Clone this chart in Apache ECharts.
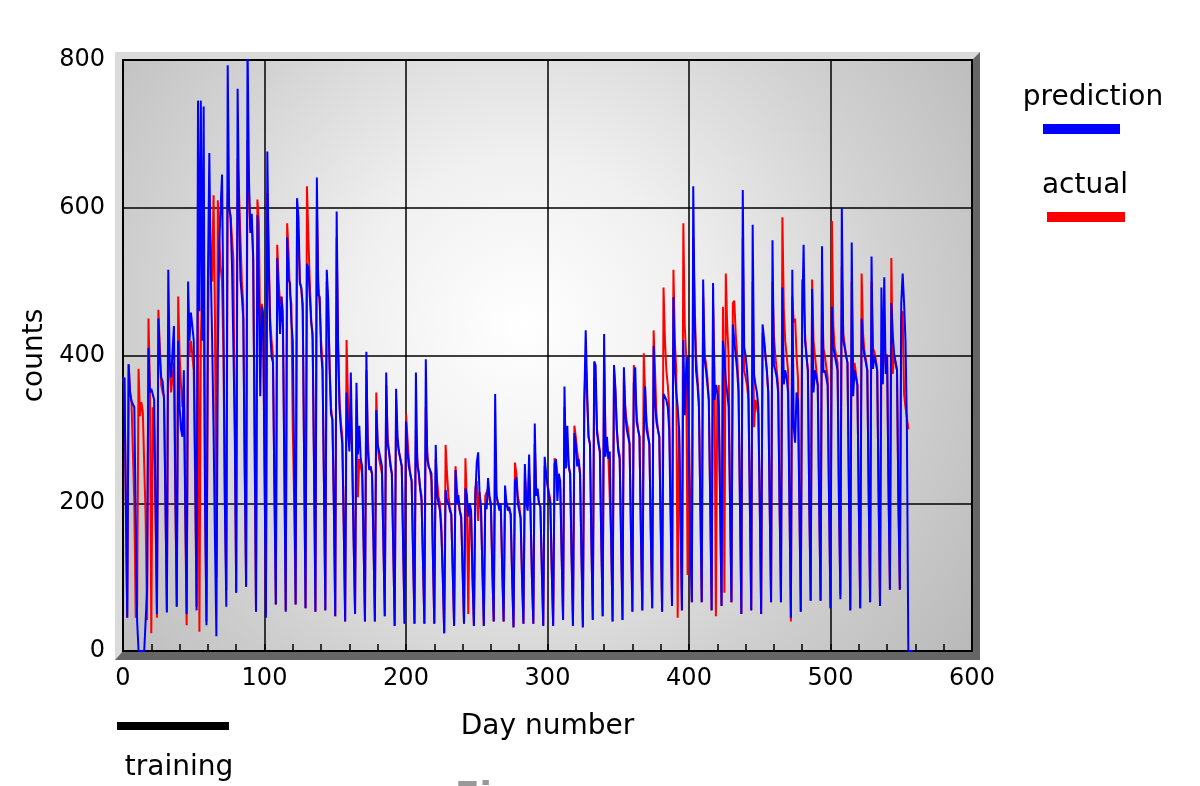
<!DOCTYPE html>
<html>
<head>
<meta charset="utf-8">
<script src="https://cdn.jsdelivr.net/npm/echarts@6/dist/echarts.min.js"></script>
<style>
  html, body { margin: 0; padding: 0; background: #fff; }
  #chart { width: 1200px; height: 786px; }
</style>
</head>
<body>
<div id="chart"></div>
<script>
// daily counts, index = day number (one row per week, week ends on the low day)
var prediction = [
  365, 370, 200, 45,
  388, 350, 338, 336, 330, 180, 40,
  0, 0, 0, 0, 0, 0, 82,
  410, 350, 355, 355, 340, 200, 50,
  450, 400, 370, 365, 340, 200, 52,
  516, 390, 370, 370, 440, 220, 60,
  420, 330, 300, 290, 380, 200, 50,
  500, 420, 458, 440, 420, 250, 55,
  745, 460, 745, 420, 737, 200, 35,
  500, 674, 520, 420, 300, 150, 20,
  400, 550, 600, 645, 450, 200, 60,
  793, 600, 587, 524, 524, 300, 79,
  761, 600, 503, 480, 450, 250, 87,
  830, 640, 566, 592, 534, 300, 53,
  590, 482, 345, 466, 455, 250, 45,
  676, 521, 434, 398, 390, 220, 63,
  532, 480, 429, 479, 440, 250, 53,
  560, 503, 498, 445, 420, 250, 63,
  613, 587, 498, 492, 470, 260, 58,
  524, 519, 480, 445, 430, 250, 53,
  641, 482, 479, 403, 380, 230, 55,
  516, 477, 382, 321, 313, 200, 47,
  595, 413, 329, 300, 280, 170, 40,
  350, 300, 270, 377, 260, 150, 50,
  363, 266, 305, 260, 250, 150, 40,
  405, 271, 245, 250, 240, 150, 40,
  326, 280, 270, 260, 250, 150, 47,
  377, 280, 270, 250, 240, 140, 34,
  355, 290, 270, 260, 250, 140, 37,
  311, 270, 250, 240, 230, 130, 37,
  377, 250, 242, 220, 203, 120, 37,
  395, 260, 250, 245, 240, 130, 37,
  279, 210, 200, 190, 160, 100, 24,
  218, 203, 200, 190, 185, 110, 34,
  245, 200, 211, 190, 182, 110, 37,
  220, 211, 182, 200, 190, 100, 34,
  210, 255, 269, 211, 192, 110, 34,
  200, 192, 234, 210, 200, 110, 40,
  348, 210, 200, 190, 200, 110, 40,
  224, 200, 190, 195, 185, 100, 32,
  230, 235, 200, 190, 180, 100, 37,
  253, 200, 190, 266, 190, 100, 37,
  308, 210, 220, 200, 195, 110, 34,
  263, 240, 225, 210, 200, 110, 34,
  253, 260, 203, 240, 230, 130, 42,
  358, 247, 305, 250, 240, 130, 34,
  295, 280, 250, 260, 240, 130, 32,
  337, 434, 353, 290, 280, 150, 42,
  392, 387, 295, 280, 270, 150, 47,
  429, 263, 290, 260, 270, 150, 40,
  387, 355, 300, 270, 260, 150, 42,
  384, 320, 300, 290, 280, 160, 53,
  361, 384, 310, 300, 290, 160, 55,
  292, 358, 300, 290, 280, 160, 58,
  413, 337, 310, 300, 290, 170, 53,
  348, 348, 340, 330, 300, 180, 61,
  479, 382, 350, 330, 300, 180, 55,
  421, 319, 380, 400, 250, 150, 66,
  629, 450, 379, 360, 330, 200, 66,
  503, 395, 380, 360, 340, 200, 55,
  498, 340, 360, 350, 330, 200, 61,
  420, 398, 366, 350, 330, 200, 66,
  442, 420, 400, 380, 350, 200, 50,
  624, 411, 400, 380, 350, 200, 55,
  577, 374, 360, 350, 330, 200, 50,
  442, 424, 400, 380, 350, 200, 66,
  556, 387, 380, 370, 350, 200, 66,
  492, 361, 380, 370, 350, 200, 45,
  516, 303, 282, 350, 340, 200, 53,
  450, 550, 420, 400, 380, 200, 68,
  490, 350, 380, 370, 360, 200, 68,
  548, 377, 380, 370, 360, 200, 58,
  466, 411, 400, 390, 380, 200, 70,
  600, 421, 411, 400, 390, 220, 55,
  553, 345, 380, 370, 360, 200, 58,
  450, 413, 400, 390, 380, 210, 66,
  534, 382, 400, 390, 380, 210, 61,
  492, 361, 506, 375, 400, 220, 83,
  471, 428, 401, 400, 380, 200, 83,
  470, 511, 471, 420, 300, 0, 0, 0, 0
];

var actual = [
  365, 370, 200, 45,
  388, 350, 338, 336, 200, 45, 60,
  382, 318, 337, 324, 324, 180, 42,
  450, 360, 24, 330, 300, 180, 45,
  462, 413, 360, 350, 345, 200, 55,
  430, 380, 350, 348, 390, 200, 60,
  480, 400, 360, 330, 360, 180, 35,
  430, 400, 420, 400, 380, 220, 60,
  500, 26, 420, 500, 450, 200, 40,
  400, 600, 540, 500, 617, 450, 100,
  610, 560, 520, 500, 400, 200, 82,
  620, 600, 590, 560, 530, 300, 79,
  666, 620, 560, 500, 470, 250, 87,
  692, 620, 571, 580, 530, 280, 53,
  611, 580, 420, 470, 460, 260, 50,
  620, 540, 450, 420, 400, 230, 63,
  550, 500, 470, 480, 460, 260, 55,
  579, 540, 482, 470, 300, 200, 63,
  590, 560, 500, 490, 460, 260, 58,
  629, 560, 500, 450, 420, 250, 53,
  600, 500, 470, 420, 390, 230, 55,
  500, 460, 390, 330, 313, 200, 47,
  560, 420, 340, 310, 290, 170, 40,
  421, 340, 280, 330, 260, 150, 50,
  340, 208, 260, 250, 240, 150, 40,
  380, 290, 250, 250, 240, 150, 40,
  350, 280, 260, 250, 240, 150, 47,
  360, 290, 270, 255, 240, 140, 34,
  340, 280, 270, 260, 250, 140, 37,
  321, 290, 260, 240, 230, 130, 37,
  300, 260, 240, 220, 210, 120, 37,
  330, 270, 250, 245, 230, 130, 37,
  260, 230, 208, 200, 170, 100, 24,
  279, 240, 210, 195, 185, 110, 34,
  250, 220, 200, 190, 180, 110, 37,
  261, 200, 50, 190, 185, 100, 34,
  220, 230, 176, 215, 195, 110, 34,
  210, 211, 220, 205, 195, 110, 40,
  230, 210, 200, 195, 190, 110, 40,
  210, 200, 195, 190, 185, 100, 32,
  255, 240, 210, 200, 180, 100, 37,
  240, 210, 195, 240, 190, 100, 37,
  280, 220, 215, 200, 195, 110, 34,
  250, 240, 225, 215, 205, 110, 34,
  261, 255, 240, 230, 220, 130, 42,
  330, 260, 280, 250, 240, 130, 34,
  305, 290, 270, 255, 240, 130, 32,
  337, 400, 340, 290, 280, 150, 42,
  370, 360, 300, 285, 270, 150, 47,
  400, 290, 280, 265, 265, 150, 40,
  380, 350, 300, 275, 265, 150, 42,
  370, 330, 310, 300, 280, 160, 53,
  387, 350, 320, 300, 290, 160, 55,
  403, 350, 310, 295, 280, 160, 58,
  434, 380, 320, 300, 290, 170, 53,
  492, 421, 380, 360, 330, 200, 61,
  516, 420, 380, 45, 300, 200, 55,
  579, 440, 400, 103, 300, 180, 66,
  560, 470, 400, 370, 340, 200, 66,
  480, 400, 390, 370, 340, 200, 55,
  470, 380, 47, 340, 360, 200, 61,
  466, 79, 511, 440, 400, 200, 66,
  471, 474, 430, 400, 360, 200, 50,
  560, 380, 370, 360, 340, 200, 55,
  500, 303, 340, 340, 320, 200, 50,
  430, 420, 400, 380, 350, 200, 66,
  500, 427, 400, 380, 360, 200, 66,
  587, 463, 420, 400, 380, 200, 40,
  480, 445, 450, 400, 370, 200, 53,
  503, 480, 430, 400, 380, 200, 68,
  503, 420, 400, 380, 360, 200, 68,
  500, 410, 400, 385, 370, 200, 58,
  582, 440, 410, 400, 390, 200, 76,
  520, 430, 415, 400, 390, 220, 55,
  500, 377, 390, 375, 360, 200, 58,
  511, 430, 405, 395, 380, 210, 66,
  500, 410, 405, 395, 380, 210, 61,
  403, 380, 400, 401, 401, 220, 83,
  532, 375, 401, 400, 380, 200, 83,
  450, 460, 348, 330, 316, 300
];

var FONT = '"DejaVu Sans", "Liberation Sans", sans-serif';

function toPairs(arr) {
  return arr.map(function (v, i) { return [i, v]; });
}

var chart = echarts.init(document.getElementById('chart'));

var option = {
  backgroundColor: '#ffffff',
  animation: false,
  grid: {
    left: 123, right: 228, top: 60, bottom: 135,
    show: true,
    borderColor: '#000',
    borderWidth: 2,
    backgroundColor: new echarts.graphic.RadialGradient(0.47, 0.45, 0.95, [
      { offset: 0, color: '#ffffff' },
      { offset: 0.3, color: '#f0f0f0' },
      { offset: 0.65, color: '#d2d2d2' },
      { offset: 1, color: '#b8b8b8' }
    ])
  },
  xAxis: {
    type: 'value',
    min: 0, max: 600, interval: 100,
    name: 'Day number',
    nameLocation: 'middle',
    nameGap: 62,
    nameTextStyle: { fontFamily: FONT, fontSize: 28, color: '#000' },
    axisLine: { show: true, lineStyle: { color: '#000', width: 2 } },
    axisTick: { show: true, inside: true, length: 7, lineStyle: { color: '#000', width: 1.5 } },
    minorTick: { show: true, splitNumber: 5, length: 7, lineStyle: { color: '#000', width: 1.5 } },
    axisLabel: { margin: 16, fontFamily: FONT, fontSize: 24, color: '#000' },
    splitLine: { show: true, lineStyle: { color: '#000', width: 1.5 } }
  },
  yAxis: {
    type: 'value',
    min: 0, max: 800, interval: 200,
    name: 'counts',
    nameLocation: 'middle',
    nameGap: 68,
    nameTextStyle: { fontFamily: FONT, fontSize: 28, color: '#000' },
    axisLine: { show: true, lineStyle: { color: '#000', width: 2 } },
    axisTick: { show: false },
    axisLabel: { margin: 18, fontFamily: FONT, fontSize: 24, color: '#000' },
    splitLine: { show: true, lineStyle: { color: '#000', width: 1.5 } }
  },
  series: [
    {
      name: 'actual',
      type: 'line',
      data: toPairs(actual),
      symbol: 'none',
      clip: true,
      lineStyle: { color: '#ff0000', width: 2 },
      itemStyle: { color: '#ff0000' }
    },
    {
      name: 'prediction',
      type: 'line',
      data: toPairs(prediction),
      symbol: 'none',
      clip: true,
      lineStyle: { color: '#0000ff', width: 2 },
      itemStyle: { color: '#0000ff' }
    }
  ],
  graphic: [
    // 3d frame round the plot
    { type: 'polygon', z: -1, shape: { points: [[115, 52], [980, 52], [972, 60], [123, 60], [123, 651], [115, 660]] },
      style: { fill: '#dadada' } },
    { type: 'polygon', z: -1, shape: { points: [[980, 52], [980, 660], [115, 660], [123, 651], [972, 651], [972, 60]] },
      style: { fill: '#666666' } },
    // legend
    { type: 'text', x: 1093, y: 98, style: { text: 'prediction', font: '28px ' + FONT, fill: '#000', align: 'center', verticalAlign: 'middle' } },
    { type: 'rect', shape: { x: 1043, y: 124, width: 77, height: 10 }, style: { fill: '#0000ff' } },
    { type: 'text', x: 1085, y: 186, style: { text: 'actual', font: '28px ' + FONT, fill: '#000', align: 'center', verticalAlign: 'middle' } },
    { type: 'rect', shape: { x: 1047, y: 212, width: 78, height: 10 }, style: { fill: '#ff0000' } },
    // training period
    { type: 'rect', shape: { x: 117, y: 722, width: 112, height: 8 }, style: { fill: '#000' } },
    { type: 'text', x: 179, y: 768, style: { text: 'training', font: '28px ' + FONT, fill: '#000', align: 'center', verticalAlign: 'middle' } },
    // cut-off caption at the bottom edge
    { type: 'text', x: 455, y: 780, style: { text: 'Fig', font: 'bold 36px ' + FONT, fill: '#999', align: 'left', verticalAlign: 'top' } }
  ]
};

chart.setOption(option);
</script>
</body>
</html>
